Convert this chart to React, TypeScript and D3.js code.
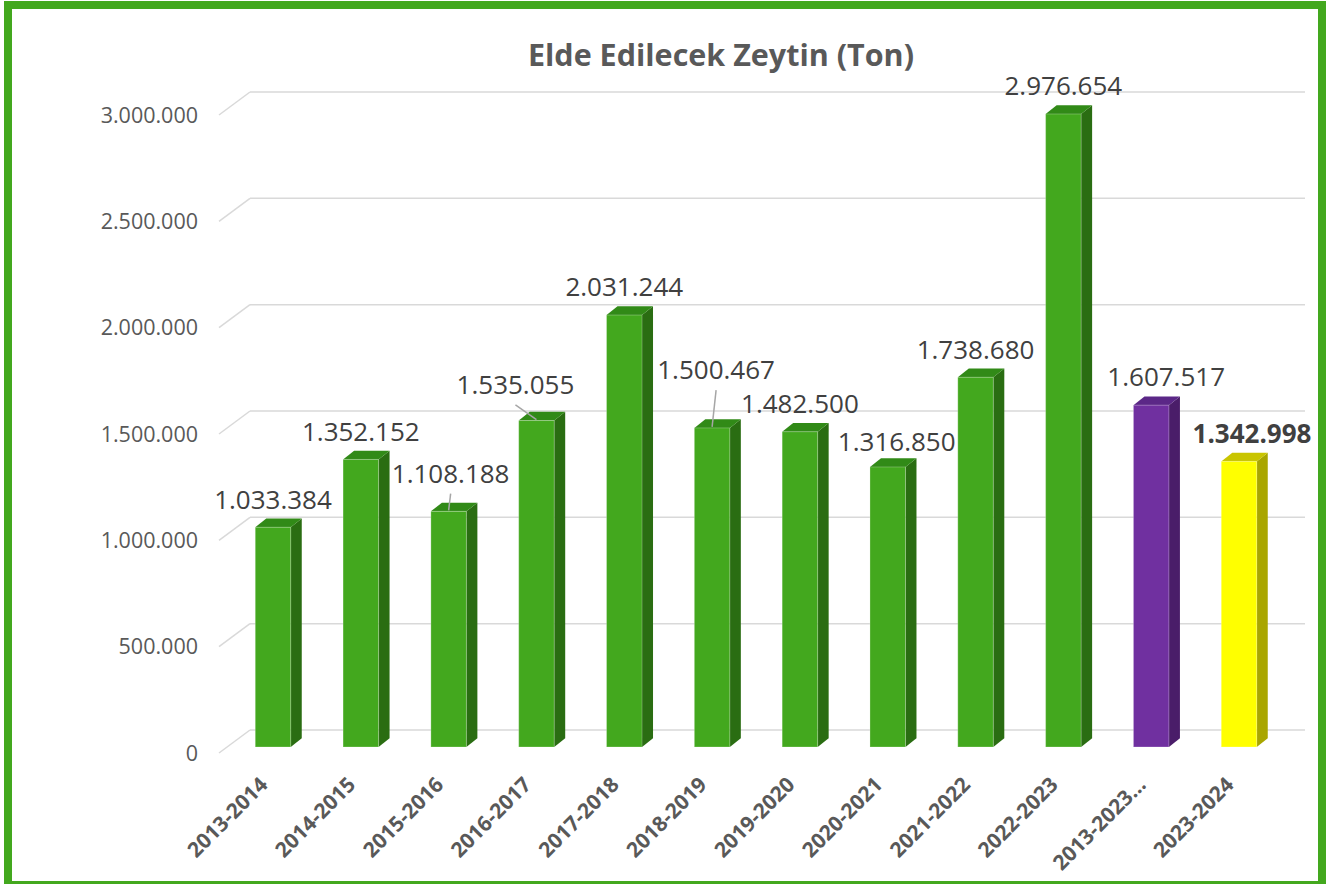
import React from "react";
import * as d3 from "d3";

const title = "Elde Edilecek Zeytin (Ton)";
const categories = [
  "2013-2014", "2014-2015", "2015-2016", "2016-2017", "2017-2018", "2018-2019",
  "2019-2020", "2020-2021", "2021-2022", "2022-2023", "2013-2023…", "2023-2024",
];
const values = [
  1033384, 1352152, 1108188, 1535055, 2031244, 1500467,
  1482500, 1316850, 1738680, 2976654, 1607517, 1342998,
];
const yTicks = [0, 500000, 1000000, 1500000, 2000000, 2500000, 3000000];

// layout-only label nudges [dx, dy, leader]
const labelNudges: [number, number, boolean][] = [
  [0, 0, false], [0, 0, false], [2, -10, true], [-21, -8, true], [0, 0, false], [4, -30, true],
  [0, 0, false], [9, 3, false], [0, 0, false], [0, 0, false], [15, 0, false], [13, 0, false],
];

const palettes: Record<string, { front: string; top: string; side: string }> = {
  green: { front: "#43A81E", top: "#318A17", side: "#2A6D12" },
  purple: { front: "#7030A0", top: "#5B2787", side: "#4A1D69" },
  yellow: { front: "#FFFF00", top: "#C9C500", side: "#A9A600" },
};
const paletteFor = (c: string) =>
  c === "2013-2023…" ? palettes.purple : c === "2023-2024" ? palettes.yellow : palettes.green;

const fmt = (v: number) => d3.format(",")(v).replace(/,/g, ".");

export default function App() {
  const W = 1330, H = 884;
  const yBack = d3.scaleLinear().domain([0, 3000000]).range([730, 92]);
  const floorFront = 747;
  const yFront = (v: number) => yBack(v) + (floorFront - yBack(0));
  const x = d3.scalePoint<string>().domain(categories).range([273, 1239]);
  const bw = 35.5, ddx = 11, ddy = 8.7;
  const gx0 = 250, gx1 = 1305, diagDx = 31, diagDy = 23;
  const font = "'Open Sans', sans-serif";

  return (
    <svg width={W} height={H} style={{ position: "absolute", left: 0, top: 0, background: "#fff" }}>
      <rect x={8} y={5} width={1314} height={880} fill="#fff" stroke="#43A81E" strokeWidth={8} />
      <text x={721} y={66} textAnchor="middle" fontFamily={font} fontWeight={700} fontSize={30.5} fill="#595959">
        {title}
      </text>
      {yTicks.map((t) => (
        <g key={t}>
          <line x1={gx0} x2={gx1} y1={yBack(t)} y2={yBack(t)} stroke="#D9D9D9" strokeWidth={1.5} />
          <line x1={gx0} x2={gx0 - diagDx} y1={yBack(t)} y2={yBack(t) + diagDy} stroke="#D9D9D9" strokeWidth={1.5} />
          <text x={198} y={yBack(t) + diagDy} dy="0.35em" textAnchor="end" fontFamily={font} fontSize={21.5} fill="#595959">
            {fmt(t)}
          </text>
        </g>
      ))}
      {categories.map((c, i) => {
        const v = values[i];
        const cx = x(c)!;
        const p = paletteFor(c);
        const l = cx - bw / 2, r = cx + bw / 2;
        const yt = yFront(v), yb = floorFront;
        const side = `${r},${yt} ${r + ddx},${yt - ddy} ${r + ddx},${yb - ddy} ${r},${yb}`;
        const top = `${l},${yt} ${l + ddx},${yt - ddy} ${r + ddx},${yt - ddy} ${r},${yt}`;
        return (
          <g key={c}>
            <polygon points={side} fill={p.side} />
            <polygon points={top} fill={p.top} />
            <rect x={l} y={yt} width={bw} height={yb - yt} fill={p.front} stroke="#ffffff" strokeOpacity={0.25} strokeWidth={1} />
          </g>
        );
      })}
      {categories.map((c, i) => {
        const v = values[i];
        const cx = x(c)!;
        const [ndx, ndy, leader] = labelNudges[i];
        const lx = cx + ndx;
        const ly = yFront(v) - ddy - 10 + ndy;
        const bold = c === "2023-2024";
        return (
          <g key={"l" + c}>
            {leader && (
              <line x1={lx} y1={ly + 11} x2={cx} y2={yFront(v) - 1} stroke="#A6A6A6" strokeWidth={1.5} />
            )}
            <text x={lx} y={ly} textAnchor="middle" fontFamily={font} fontSize={26}
              fontWeight={bold ? 700 : 400} fill="#404040">
              {fmt(v)}
            </text>
          </g>
        );
      })}
      {categories.map((c) => {
        const px = x(c)! - 4, py = 786;
        return (
          <text key={"x" + c} x={px} y={py} textAnchor="end" transform={`rotate(-45 ${px} ${py})`}
            fontFamily={font} fontWeight={700} fontSize={21} fill="#595959">
            {c}
          </text>
        );
      })}
    </svg>
  );
}
